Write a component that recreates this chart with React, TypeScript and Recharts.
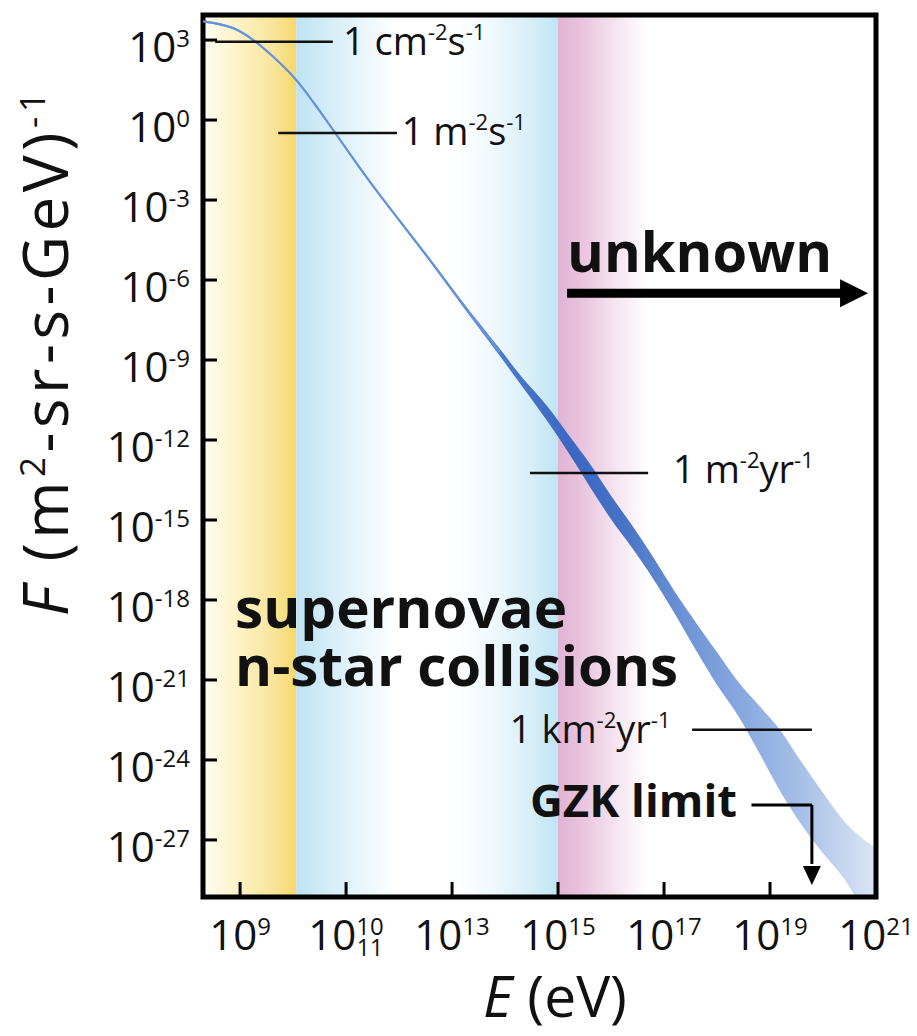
import React from 'react';
import {
  ComposedChart,
  Area,
  Line,
  XAxis,
  YAxis,
  ReferenceArea,
  ReferenceLine,
  ReferenceDot,
} from 'recharts';

// ---- data (log10 E in eV, log10 F) ----
const energyLog = [8.3, 8.6, 8.9, 9.25, 9.6, 10.06, 10.4, 10.8, 11.5, 12.0, 12.6, 13.2, 13.9, 14.3, 14.8, 15.2, 15.6, 16.0, 16.4, 16.8, 17.2, 17.6, 18.0, 18.4, 18.8, 19.2, 19.6, 20.0, 20.4, 20.8, 21.0];
const fluxCenter = [3.7, 3.6, 3.42, 3.0, 2.42, 1.5, 0.62, -0.5, -2.45, -3.75, -5.3, -6.9, -8.7, null, null, null, null, null, null, null, null, null, null, null, null, null, null, null, null, null, null];
const bandLow = [3.66, 3.56, 3.38, 2.96, 2.38, 1.46, 0.58, -0.54, -2.5, -3.8, -5.36, -6.98, -8.84, -9.93, -11.3, -12.49, -13.75, -14.97, -16.05, -17.22, -18.51, -19.88, -21.19, -22.35, -23.75, -25.2, -26.45, -27.5, -28.46, -29.74, -30.3];
const bandHigh = [3.74, 3.64, 3.46, 3.04, 2.46, 1.54, 0.66, -0.46, -2.4, -3.7, -5.24, -6.82, -8.58, -9.6, -10.74, -11.81, -12.89, -14.09, -15.21, -16.41, -17.68, -18.84, -19.96, -21.07, -21.98, -22.9, -24.1, -25.23, -26.3, -27.03, -27.3];

const xTicks = [9, 11, 13, 15, 17, 19, 21];
const xTickSup = ['9', '10', '13', '15', '17', '19', '21'];
const xTickSub = ['', '11', '', '', '', '', ''];
const yTicks = [3, 0, -3, -6, -9, -12, -15, -18, -21, -24, -27];
const yTickSup = ['3', '0', '-3', '-6', '-9', '-12', '-15', '-18', '-21', '-24', '-27'];

const X_DOMAIN = [8.3, 21];
const Y_DOMAIN = [-29.14, 3.94];

// source regions (log E)
const regionIds = ['gYellow', 'gBlue', 'gPink'];
const regionFrom = [8.3, 10.06, 15.0];
const regionTo = [10.06, 15.0, 16.7];

// rate reference lines
const rateLineX1 = [8.53, 9.72, 14.47, 17.53];
const rateLineX2 = [10.75, 11.96, 16.7, 19.79];
const rateLineY = [2.94, -0.49, -13.24, -22.87];
const rateTextX = [10.94, 12.05, 17.17, 14.09];
const rateTextY = [2.44, -0.94, -13.61, -23.36];
const rateUnit1 = ['1 cm', '1 m', '1 m', '1 km'];
const rateExp1 = ['-2', '-2', '-2', '-2'];
const rateUnit2 = ['s', 's', 'yr', 'yr'];
const rateExp2 = ['-1', '-1', '-1', '-1'];

// bold annotations
const noteText = ['unknown', 'supernovae', 'n-star collisions', 'GZK limit'];
const noteX = [15.17, 8.906, 8.906, 14.47];
const noteY = [-5.7, -19.05, -21.22, -26.14];
const noteSize = [56, 56, 56, 44];
const noteLen = [265, 332, 443, 207];

// arrows
const unknownArrow = { x1: 15.17, x2: 20.35, tip: 20.85, y: -6.5 };
const gzkArrow = { x1: 18.65, x2: 19.79, y1: -25.69, y2: -27.9, tip: -28.69 };

const rows = energyLog.map((e, i) => ({
  e,
  band: [bandLow[i], bandHigh[i]],
  center: fluxCenter[i],
}));

const FONT = "'Open Sans', 'Noto Sans', 'DejaVu Sans', sans-serif";

const XTick = (props: any) => {
  const { x, y, payload } = props;
  const i = xTicks.indexOf(payload.value);
  const sub = xTickSub[i];
  return (
    <g>
      {payload.value < 21 && (
        <line x1={x} x2={x} y1={y} y2={y - 15} stroke="#000" strokeWidth={3} />
      )}
      <text x={x} y={y + 53} textAnchor="middle" fontFamily={FONT} fontSize={42} fill="#111">
        <tspan>10</tspan>
        <tspan dy={-15} fontSize={24}>{xTickSup[i]}</tspan>
        {sub ? (
          <tspan dx={-27} dy={21} fontSize={23}>{sub}</tspan>
        ) : null}
      </text>
    </g>
  );
};

const YTick = (props: any) => {
  const { x, y, payload } = props;
  const i = yTicks.indexOf(payload.value);
  return (
    <g>
      <line x1={x} x2={x + 14} y1={y} y2={y} stroke="#000" strokeWidth={3} />
      <text x={x - 13} y={y + 22} textAnchor="end" fontFamily={FONT} fontSize={42} fill="#111">
        <tspan>10</tspan>
        <tspan dy={-15} fontSize={24}>{yTickSup[i]}</tspan>
      </text>
    </g>
  );
};

const YTitle = () => (
  <text
    x={68}
    y={352}
    transform="rotate(-90, 68, 352)"
    textAnchor="middle"
    fontFamily={FONT}
    fontSize={62}
    fill="#111"
    letterSpacing={4.5}
  >
    <tspan fontStyle="italic">F</tspan>
    <tspan> (m</tspan>
    <tspan dy={-23} fontSize={35}>2</tspan>
    <tspan dy={23}>-sr-s-GeV)</tspan>
    <tspan dy={-23} fontSize={35}>-1</tspan>
  </text>
);

const XTitle = () => (
  <text x={555} y={1017} textAnchor="middle" fontFamily={FONT} fontSize={57} fill="#111">
    <tspan fontStyle="italic">E</tspan>
    <tspan> (eV)</tspan>
  </text>
);

const rateLabel = (i: number) => (p: any) => (
  <text x={p.cx} y={p.cy} fontFamily={FONT} fontSize={38} fill="#111">
    <tspan>{rateUnit1[i]}</tspan>
    <tspan dy={-15} fontSize={22}>{rateExp1[i]}</tspan>
    <tspan dy={15}>{rateUnit2[i]}</tspan>
    <tspan dy={-15} fontSize={22}>{rateExp2[i]}</tspan>
  </text>
);

const noteLabel = (i: number) => (p: any) => (
  <text
    x={p.cx}
    y={p.cy}
    fontFamily={FONT}
    fontWeight={700}
    fontSize={noteSize[i]}
    fill="#111"
    textLength={noteLen[i]}
    lengthAdjust="spacingAndGlyphs"
  >
    {noteText[i]}
  </text>
);

const arrowRight = (p: any) => (
  <polygon points={`${p.cx},${p.cy} ${p.cx - 28},${p.cy - 14} ${p.cx - 28},${p.cy + 14}`} fill="#000" />
);
const arrowDown = (p: any) => (
  <polygon points={`${p.cx},${p.cy} ${p.cx - 9},${p.cy - 19} ${p.cx + 9},${p.cy - 19}`} fill="#000" />
);

export default function App() {
  return (
    <div style={{ width: 917, height: 1036, background: '#fff' }}>
      <style>{`html,body{margin:0;padding:0;overflow:hidden;background:#fff}`}</style>
      <ComposedChart
        width={917}
        height={1036}
        data={rows}
        margin={{ top: 15, right: 41, left: 0, bottom: 0 }}
      >
        <defs>
          <linearGradient id="gYellow" x1="0" y1="0" x2="1" y2="0">
            <stop offset="0" stopColor="#fffdf3" />
            <stop offset="0.35" stopColor="#fdf3c8" />
            <stop offset="0.75" stopColor="#f9e59a" />
            <stop offset="1" stopColor="#f5d86c" />
          </linearGradient>
          <linearGradient id="gBlue" x1="0" y1="0" x2="1" y2="0">
            <stop offset="0" stopColor="#bee2f2" />
            <stop offset="0.12" stopColor="#d4edf8" />
            <stop offset="0.3" stopColor="#f2f9fd" />
            <stop offset="0.38" stopColor="#ffffff" />
            <stop offset="0.6" stopColor="#ffffff" />
            <stop offset="0.76" stopColor="#eef8fc" />
            <stop offset="0.9" stopColor="#d6eef8" />
            <stop offset="1" stopColor="#c0e4f3" />
          </linearGradient>
          <linearGradient id="gPink" x1="0" y1="0" x2="1" y2="0">
            <stop offset="0" stopColor="#e0b3d4" />
            <stop offset="0.3" stopColor="#eac7df" />
            <stop offset="0.65" stopColor="#f6e5f0" />
            <stop offset="1" stopColor="#ffffff" />
          </linearGradient>
          <linearGradient id="bandGrad" x1="0" y1="0" x2="1" y2="0">
            <stop offset="0" stopColor="#7aa3e2" />
            <stop offset="0.25" stopColor="#5f8dd8" />
            <stop offset="0.45" stopColor="#4a78cb" />
            <stop offset="0.55" stopColor="#3b67c1" />
            <stop offset="0.62" stopColor="#4571c6" />
            <stop offset="0.72" stopColor="#6f95d6" />
            <stop offset="0.8" stopColor="#88a8df" />
            <stop offset="0.88" stopColor="#a3bde6" />
            <stop offset="1" stopColor="#dce6f5" />
          </linearGradient>
        </defs>

        <XAxis
          dataKey="e"
          type="number"
          domain={X_DOMAIN}
          ticks={xTicks}
          allowDataOverflow
          height={139}
          tickSize={0}
          tickMargin={0}
          tickLine={false}
          axisLine={false}
          tick={XTick}
          interval={0}
          label={XTitle}
        />
        <YAxis
          type="number"
          domain={Y_DOMAIN}
          ticks={yTicks}
          allowDataOverflow
          width={203}
          tickSize={0}
          tickMargin={0}
          tickLine={false}
          axisLine={false}
          tick={YTick}
          interval={0}
          label={YTitle}
        />

        {regionIds.map((id, i) => (
          <ReferenceArea
            key={id}
            x1={regionFrom[i]}
            x2={regionTo[i]}
            y1={Y_DOMAIN[0]}
            y2={Y_DOMAIN[1]}
            fill={`url(#${id})`}
            fillOpacity={1}
            stroke="none"
          />
        ))}

        <Area
          dataKey="band"
          type="monotone"
          fill="url(#bandGrad)"
          fillOpacity={1}
          stroke="none"
          isAnimationActive={false}
        />
        <Line
          dataKey="center"
          type="monotone"
          stroke="#6593db"
          strokeWidth={2.2}
          dot={false}
          connectNulls={false}
          isAnimationActive={false}
        />

        {rateLineX1.map((x1, i) => (
          <ReferenceLine
            key={`rl${i}`}
            segment={[
              { x: x1, y: rateLineY[i] },
              { x: rateLineX2[i], y: rateLineY[i] },
            ]}
            stroke="#111"
            strokeWidth={2.5}
          />
        ))}
        {rateTextX.map((x, i) => (
          <ReferenceDot key={`rt${i}`} x={x} y={rateTextY[i]} r={1} shape={rateLabel(i)} />
        ))}

        {noteText.map((t, i) => (
          <ReferenceDot key={`nt${i}`} x={noteX[i]} y={noteY[i]} r={1} shape={noteLabel(i)} />
        ))}

        <ReferenceLine
          segment={[
            { x: unknownArrow.x1, y: unknownArrow.y },
            { x: unknownArrow.x2, y: unknownArrow.y },
          ]}
          stroke="#000"
          strokeWidth={9}
        />
        <ReferenceDot x={unknownArrow.tip} y={unknownArrow.y} r={1} shape={arrowRight} />

        <ReferenceLine
          segment={[
            { x: gzkArrow.x1, y: gzkArrow.y1 },
            { x: gzkArrow.x2, y: gzkArrow.y1 },
          ]}
          stroke="#000"
          strokeWidth={3}
        />
        <ReferenceLine
          segment={[
            { x: gzkArrow.x2, y: gzkArrow.y1 },
            { x: gzkArrow.x2, y: gzkArrow.y2 },
          ]}
          stroke="#000"
          strokeWidth={3}
        />
        <ReferenceDot x={gzkArrow.x2} y={gzkArrow.tip} r={1} shape={arrowDown} />

        <ReferenceArea
          x1={X_DOMAIN[0]}
          x2={X_DOMAIN[1]}
          y1={Y_DOMAIN[0]}
          y2={Y_DOMAIN[1]}
          fill="none"
          stroke="#000"
          strokeWidth={5}
          ifOverflow="visible"
        />
      </ComposedChart>
    </div>
  );
}
